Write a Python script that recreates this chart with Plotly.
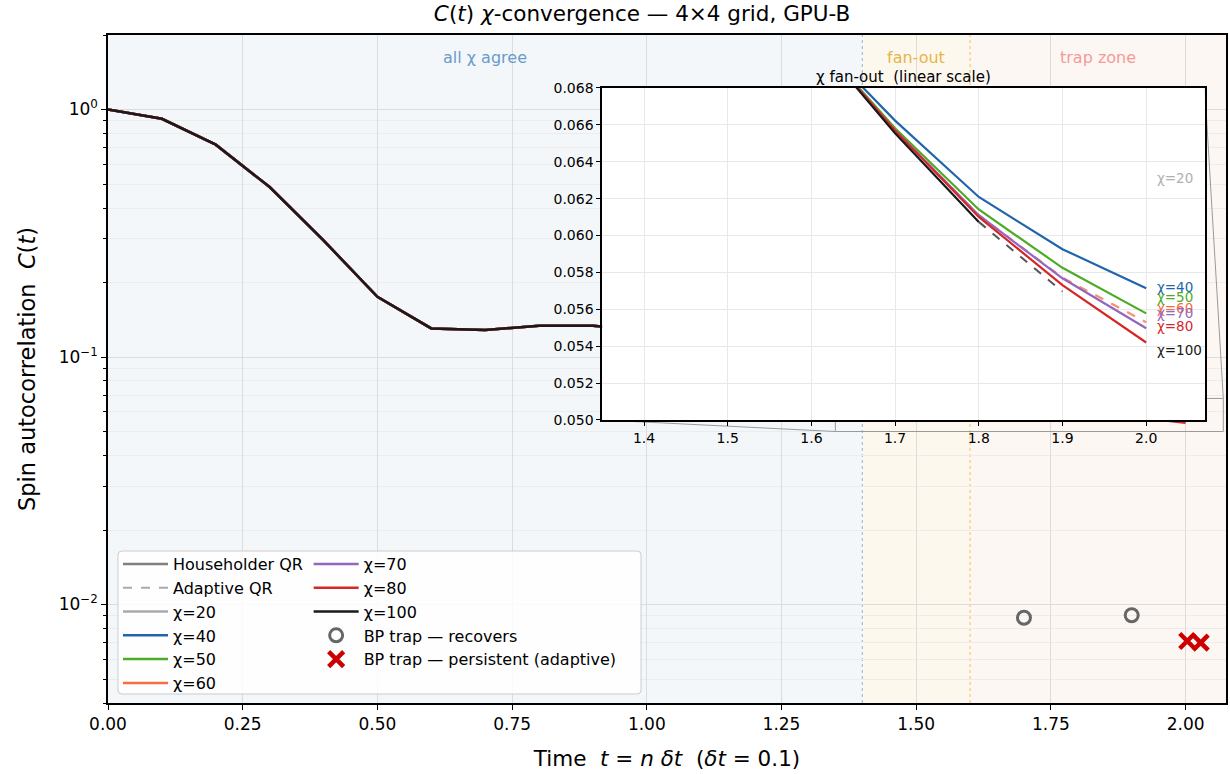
import math
import plotly.graph_objects as go

# ---------------------------------------------------------------------------
# Spin autocorrelation C(t) on the 4x4 grid (GPU-B), t = n * dt, dt = 0.1
# ---------------------------------------------------------------------------
t_common = [0.0, 0.1, 0.2, 0.3, 0.4, 0.5, 0.6, 0.7, 0.8, 0.9,
            1.0, 1.1, 1.2, 1.3, 1.4, 1.5, 1.6]
c_common = [1.0, 0.917, 0.721, 0.486, 0.296, 0.175, 0.1305, 0.1285, 0.1337, 0.1337,
            0.128, 0.118, 0.105, 0.093, 0.083, 0.076, 0.0709]

# bond dimensions fan out after t = 1.6
t_tail = [1.7, 1.8, 1.9, 2.0]
tail_chi40 = [0.06623, 0.06209, 0.05926, 0.05714]
tail_chi50 = [0.06582, 0.06141, 0.05825, 0.05578]
tail_chi60 = [0.06572, 0.06110, 0.05772, 0.05530]
tail_chi70 = [0.06570, 0.06110, 0.05768, 0.05497]
tail_chi80 = [0.06569, 0.06101, 0.05731, 0.05420]
tail_chi100 = [0.06555, 0.06074]

# adaptive-QR continuation of the chi=100 run
t_adaptive = [1.8, 1.9]
c_adaptive = [0.06074, 0.05696]

# belief-propagation traps
bp_recover_t = [1.7, 1.9]
bp_recover_c = [0.00884, 0.00905]
bp_persist_t = [2.003, 2.028]
bp_persist_c = [0.00712, 0.00701]

chi_names = ["χ=20", "χ=40", "χ=50", "χ=60", "χ=70", "χ=80", "χ=100"]
chi_colors = ["#aaaaaa", "#2166ac", "#4dac26", "#f46d43", "#9467bd", "#d62728", "#1a1a1a"]
chi_tails = [[], tail_chi40, tail_chi50, tail_chi60, tail_chi70, tail_chi80, tail_chi100]
chi_label_y = [0.0631, 0.05719, 0.05666, 0.05605, 0.05578, 0.05508, 0.05378]

# axis limits
X_MAX = 2.075
Y_LO, Y_HI = 0.004, 2.0
INSET_X = [1.35, 2.07]
INSET_Y = [0.050, 0.068]
INSET_DOM_X = [0.442, 0.981]
INSET_DOM_Y = [0.4237, 0.9207]

BANDS = [(0.0, 1.4, "#f3f7fa", "all χ agree", "#6a9cc8"),
         (1.4, 1.6, "#fdf8ee", "fan-out", "#e6b548"),
         (1.6, X_MAX, "#fdf7f4", "trap zone", "#f49a98")]

FONT = "DejaVu Sans"

fig = go.Figure()

legend_of = {"χ=20": "legend", "χ=40": "legend", "χ=50": "legend", "χ=60": "legend",
             "χ=70": "legend2", "χ=80": "legend2", "χ=100": "legend2"}

# legend-only style entries for the two QR variants
fig.add_trace(go.Scatter(x=[None], y=[None], mode="lines", name="Householder QR",
                         line=dict(color="#808080", width=2.5), legend="legend"))
fig.add_trace(go.Scatter(x=[None], y=[None], mode="lines", name="Adaptive QR",
                         line=dict(color="#aaaaaa", width=2, dash="dash"), legend="legend"))

# full curves on the log axes
for name, color, tail in zip(chi_names, chi_colors, chi_tails):
    xs = t_common + t_tail[:len(tail)]
    ys = c_common + tail
    fig.add_trace(go.Scatter(x=xs, y=ys, mode="lines", name=name,
                             line=dict(color=color, width=2.5),
                             legend=legend_of[name], xaxis="x", yaxis="y"))

fig.add_trace(go.Scatter(x=bp_recover_t, y=bp_recover_c, mode="markers",
                         name="BP trap — recovers", legend="legend2",
                         marker=dict(symbol="circle-open", size=13, color="#666666",
                                     line=dict(width=3, color="#666666"))))
fig.add_trace(go.Scatter(x=bp_persist_t, y=bp_persist_c, mode="markers",
                         name="BP trap — persistent (adaptive)", legend="legend2",
                         marker=dict(symbol="x-thin", size=15, color="#cc0000",
                                     line=dict(width=4.5, color="#cc0000"))))

# inset-zoom indicator: rectangle and connectors in main-axis data space
lo, hi = math.log10(Y_LO), math.log10(Y_HI)


def paper_to_data(px, py):
    return px * X_MAX, 10 ** (lo + py * (hi - lo))


rx = [INSET_X[0], INSET_X[1], INSET_X[1], INSET_X[0], INSET_X[0]]
ry = [INSET_Y[0], INSET_Y[0], INSET_Y[1], INSET_Y[1], INSET_Y[0]]
fig.add_trace(go.Scatter(x=rx, y=ry, mode="lines", showlegend=False, hoverinfo="skip",
                         line=dict(color="#9a9a9a", width=1)))
bl = paper_to_data(INSET_DOM_X[0], INSET_DOM_Y[0])
tr = paper_to_data(INSET_DOM_X[1], INSET_DOM_Y[1])
fig.add_trace(go.Scatter(x=[bl[0], INSET_X[0]], y=[bl[1], INSET_Y[0]], mode="lines",
                         showlegend=False, hoverinfo="skip",
                         line=dict(color="#9a9a9a", width=1)))
fig.add_trace(go.Scatter(x=[tr[0], INSET_X[1]], y=[tr[1], INSET_Y[1]], mode="lines",
                         showlegend=False, hoverinfo="skip",
                         line=dict(color="#9a9a9a", width=1)))

# inset: linear zoom on the fan-out
inset_dash = {"χ=60": "dash"}
for name, color, tail in zip(chi_names, chi_colors, chi_tails):
    xs = t_common + t_tail[:len(tail)]
    ys = c_common + tail
    fig.add_trace(go.Scatter(x=xs, y=ys, mode="lines", showlegend=False,
                             line=dict(color=color, width=2.2,
                                       dash=inset_dash.get(name, "solid")),
                             opacity=0.75 if name == "χ=60" else 1.0,
                             xaxis="x2", yaxis="y2"))
fig.add_trace(go.Scatter(x=t_adaptive, y=c_adaptive, mode="lines", showlegend=False,
                         line=dict(color="#555555", width=2, dash="dash"),
                         xaxis="x2", yaxis="y2"))

shapes = []
annotations = []
for x0, x1, fill, label, tcolor in BANDS:
    shapes.append(dict(type="rect", xref="x", yref="paper", x0=x0, x1=x1, y0=0, y1=1,
                       fillcolor=fill, line=dict(width=0), layer="below"))
    annotations.append(dict(xref="x", yref="paper", x=(x0 + x1) / 2, y=0.9656,
                            xanchor="center", yanchor="middle",
                            text=label, showarrow=False,
                            font=dict(size=16, color=tcolor, family=FONT)))
for xv, col in [(1.4, "#8fb3d3"), (1.6, "#f2be5c")]:
    shapes.append(dict(type="line", xref="x", yref="paper", x0=xv, x1=xv, y0=0, y1=1,
                       line=dict(color=col, width=1, dash="dot"), layer="below"))

# legend frame (two legend columns share one box)
lx0, lx1 = (118 - 108) / 1120, (642 - 108) / 1120
ly0, ly1 = (703 - 694) / 668, (703 - 551) / 668
r_x, r_y = 4 / 1120, 4 / 668
path = (f"M {lx0 + r_x},{ly0} L {lx1 - r_x},{ly0} Q {lx1},{ly0} {lx1},{ly0 + r_y} "
        f"L {lx1},{ly1 - r_y} Q {lx1},{ly1} {lx1 - r_x},{ly1} "
        f"L {lx0 + r_x},{ly1} Q {lx0},{ly1} {lx0},{ly1 - r_y} "
        f"L {lx0},{ly0 + r_y} Q {lx0},{ly0} {lx0 + r_x},{ly0} Z")
shapes.append(dict(type="path", xref="paper", yref="paper", path=path,
                   fillcolor="rgba(255,255,255,0.85)", line=dict(color="#cccccc", width=1),
                   layer="above"))

# inset labels and title
for name, color, yv in zip(chi_names, chi_colors, chi_label_y):
    annotations.append(dict(xref="x2", yref="y2", x=2.01, y=yv, text=name,
                            xanchor="left", yanchor="middle", showarrow=False,
                            font=dict(size=13.5, color="#b0b0b0" if name == "χ=20" else color,
                                      family=FONT)))
annotations.append(dict(xref="paper", yref="paper", x=sum(INSET_DOM_X) / 2,
                        y=INSET_DOM_Y[1], xanchor="center", yanchor="bottom", yshift=0,
                        text="χ fan-out \u00a0(linear scale)", showarrow=False,
                        font=dict(size=15, color="black", family=FONT)))

minor_vals = [m * 10 ** e for e in (-3, -2, -1, 0) for m in range(2, 10)
              if Y_LO <= m * 10 ** e <= Y_HI]

axis_common = dict(showline=True, mirror=True, linecolor="black", ticks="outside",
                   tickcolor="black", zeroline=False)

fig.update_layout(
    width=1230, height=774,
    margin=dict(l=108, r=2, t=35, b=71),
    paper_bgcolor="white", plot_bgcolor="white",
    font=dict(family=FONT, color="black"),
    title=dict(text="<i>C</i>(<i>t</i>) <i>χ</i>-convergence — 4×4 grid, GPU-B",
               x=0.522, xanchor="center", y=0.982, yanchor="middle", yref="container",
               font=dict(size=21.5, family=FONT, color="black")),
    xaxis=dict(domain=[0, 1], range=[0, X_MAX], tickvals=[0, 0.25, 0.5, 0.75, 1.0, 1.25, 1.5, 1.75, 2.0],
               tickformat=".2f", ticklen=5, linewidth=1.5, tickfont=dict(size=17),
               showgrid=True, gridcolor="#dcdcdc", gridwidth=1,
               title=dict(text="Time \u00a0<i>t</i> = <i>n</i> <i>δt</i> \u00a0(<i>δt</i> = 0.1)",
                          font=dict(size=21.5), standoff=18),
               **axis_common),
    yaxis=dict(domain=[0, 1], type="log", range=[lo, hi],
               tickvals=[0.01, 0.1, 1.0],
               ticktext=["10<sup>−2</sup>", "10<sup>−1</sup>", "10<sup>0</sup>"],
               ticklen=5, linewidth=1.5, tickfont=dict(size=17),
               showgrid=True, gridcolor="#dcdcdc", gridwidth=1,
               minor=dict(tickvals=minor_vals, ticklen=3, tickcolor="black",
                          showgrid=True, gridcolor="#ececec", gridwidth=1),
               title=dict(text="Spin autocorrelation \u00a0<i>C</i>(<i>t</i>)",
                          font=dict(size=22.5), standoff=17),
               **axis_common),
    xaxis2=dict(domain=INSET_DOM_X, anchor="y2", range=INSET_X,
                tickvals=[1.4, 1.5, 1.6, 1.7, 1.8, 1.9, 2.0], tickformat=".1f",
                ticklen=4, linewidth=1.5, tickfont=dict(size=14),
                showgrid=True, gridcolor="#e8e8e8", **axis_common),
    yaxis2=dict(domain=INSET_DOM_Y, anchor="x2", range=INSET_Y,
                tickvals=[0.050, 0.052, 0.054, 0.056, 0.058, 0.060, 0.062, 0.064, 0.066, 0.068],
                tickformat=".3f", ticklen=4, linewidth=1.5, tickfont=dict(size=14),
                showgrid=True, gridcolor="#e8e8e8", **axis_common),
    legend=dict(x=(118 - 108) / 1120, y=(703 - 547) / 668, xanchor="left", yanchor="top",
                bgcolor="rgba(0,0,0,0)", font=dict(size=16), tracegroupgap=0, itemwidth=45),
    legend2=dict(x=(309 - 108) / 1120, y=(703 - 547) / 668, xanchor="left", yanchor="top",
                 bgcolor="rgba(0,0,0,0)", font=dict(size=16), tracegroupgap=0, itemwidth=45),
    shapes=shapes,
    annotations=annotations,
)

fig.write_html("out.html")
